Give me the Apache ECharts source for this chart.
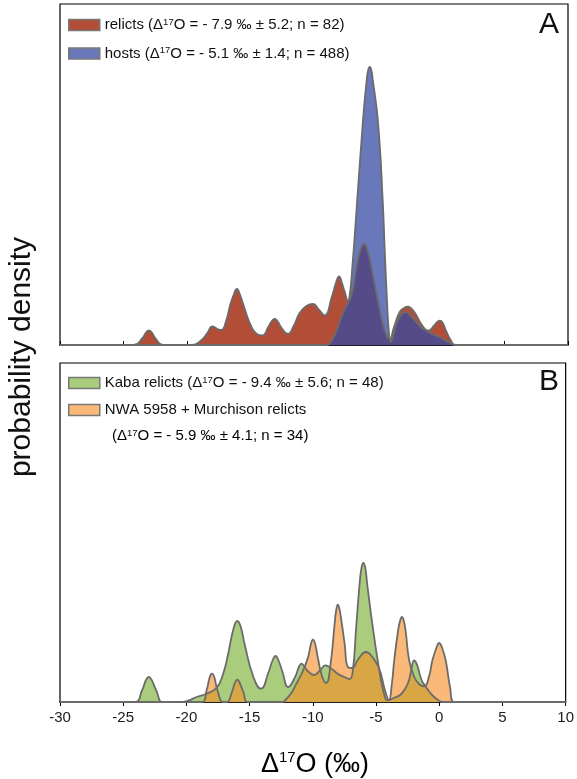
<!DOCTYPE html>
<html><head><meta charset="utf-8">
<script src="https://cdn.jsdelivr.net/npm/echarts@6/dist/echarts.min.js"></script>
<style>html,body{margin:0;padding:0;background:#fff}#c{width:577px;height:779px}</style>
</head><body><div id="c"></div>
<script>
// tick labels of the shared x axis
const xTicks = [-30, -25, -20, -15, -10, -5, 0, 5, 10];

// Panel A: relicts density (x = Δ17O, y = relative density)
const relicts = [[-30,0],[-24.2,0],[-23.5,7],[-23.2,13],[-23.0,14.5],[-22.8,13],[-22.5,7],[-21.9,0],[-19.6,0],[-18.9,4.5],[-18.4,12],[-18.0,18.5],[-17.6,16],[-17.3,15],[-16.9,25],[-16.6,40],[-16.3,51],[-16.07,56],[-15.85,51],[-15.5,38],[-15.0,20],[-14.5,11],[-14.07,9.5],[-13.6,18],[-13.35,23.5],[-13.1,26],[-12.85,23.5],[-12.6,18],[-12.05,11],[-11.6,19],[-11.13,32],[-10.6,39],[-10.08,41],[-9.6,35],[-9.16,29.5],[-8.6,48],[-8.25,63],[-8.03,68.5],[-7.8,62],[-7.6,54],[-7.3,44],[-6.95,55],[-6.66,77.6],[-6.3,97],[-6.06,101],[-5.8,95],[-5.48,77.6],[-4.96,44],[-4.43,14.3],[-4.05,6],[-3.7,18],[-3.25,33],[-2.9,37],[-2.59,38.3],[-2.3,36],[-2.0,31],[-1.5,20],[-1.02,14.3],[-0.5,20],[-0.3,23],[-0.09,24.3],[0.12,22.5],[0.4,14],[0.8,4],[1.1,0],[10,0]];
// Panel A: hosts density
const hosts = [[-30,0],[-9.0,0],[-8.6,5],[-8.2,15],[-7.85,27.7],[-7.5,38],[-7.24,45],[-6.97,80],[-6.65,135],[-6.14,225],[-5.85,265],[-5.73,275],[-5.61,278],[-5.49,275],[-5.38,266],[-4.96,223],[-4.58,142],[-4.43,94],[-4.25,44],[-4.1,12],[-3.95,3],[-3.75,10],[-3.5,22],[-3.1,31],[-2.77,33],[-2.3,28],[-1.93,22.7],[-1.5,17],[-1.14,14.3],[-0.5,10],[-0.09,7.7],[0.5,3.5],[1.2,0],[10,0]];
// Panel B: Kaba relicts density
const kaba = [[-30,0],[-24.1,0],[-23.5,12],[-23.2,22],[-22.98,25],[-22.75,22],[-22.4,12],[-21.85,0],[-20.5,0],[-19.8,1.7],[-19.2,5],[-18.4,8.3],[-17.6,14.3],[-17.1,28],[-16.7,48],[-16.3,72],[-15.97,81],[-15.7,75],[-15.4,58],[-14.7,25],[-14.1,13.3],[-13.5,30],[-13.2,41],[-12.95,46],[-12.7,41],[-12.4,30],[-11.95,15],[-11.4,25],[-11.1,35],[-10.9,38.3],[-10.7,36],[-10.4,31],[-9.9,27],[-9.4,32],[-9.0,36.7],[-8.5,33],[-8.0,28],[-7.5,25],[-7.1,23],[-6.85,30],[-6.57,75],[-6.3,118],[-6.15,134],[-6.0,139],[-5.85,134],[-5.7,118],[-5.26,75],[-4.74,31.7],[-4.4,10],[-4.08,1.7],[-3.6,4],[-3.0,8],[-2.5,18],[-2.2,33],[-2.08,40],[-1.98,41.7],[-1.86,40],[-1.7,35],[-1.4,22],[-1.1,16],[-0.7,9],[-0.2,3],[0.3,0],[10,0]];
// Panel B: NWA 5958 + Murchison relicts density
const nwa = [[-30,0],[-18.8,0],[-18.4,12],[-18.15,25],[-17.99,28.3],[-17.8,25],[-17.55,12],[-17.1,0],[-16.8,0],[-16.4,10],[-16.15,19.5],[-15.97,22.3],[-15.8,19.5],[-15.5,10],[-15.1,0],[-12.4,0],[-12.1,3],[-11.7,9],[-11.3,18.3],[-10.77,31.7],[-10.37,45],[-10.15,58],[-9.98,62.3],[-9.8,57],[-9.6,44],[-9.25,25],[-8.94,19],[-8.6,38],[-8.3,75],[-8.16,91],[-8.02,97.3],[-7.88,92],[-7.75,82],[-7.48,58],[-7.23,35],[-6.9,34],[-6.4,43],[-5.79,50],[-5.3,45],[-4.74,33],[-4.3,12],[-3.98,2],[-3.75,18],[-3.56,41.7],[-3.25,72],[-3.1,81],[-2.95,85],[-2.8,81],[-2.65,70],[-2.38,41.7],[-1.98,25],[-1.6,18],[-1.2,15.7],[-0.8,26],[-0.54,41.7],[-0.2,55],[-0.01,59],[0.2,55],[0.51,41.7],[0.85,15],[1.17,0],[10,0]];

const seriesNames = ['relicts', 'hosts', 'Kaba relicts', 'NWA 5958 + Murchison relicts'];
const legendTexts = {
  'relicts': '{n|relicts (Δ}{s|17}{n|O = - 7.9 ‰ ± 5.2; n = 82)}',
  'hosts': '{n|hosts (Δ}{s|17}{n|O = - 5.1 ‰ ± 1.4; n = 488)}',
  'Kaba relicts': '{n|Kaba relicts (Δ}{s|17}{n|O = - 9.4 ‰ ± 5.6; n = 48)}',
  'NWA 5958 + Murchison relicts': '{n|NWA 5958 + Murchison relicts}'
};

const FONT = 'Liberation Sans';
const rich = {
  n: {fontFamily: FONT, fontSize: 15, lineHeight: 16, color: '#111'},
  s: {fontFamily: FONT, fontSize: 9.5, lineHeight: 8, verticalAlign: 'top', color: '#111'}
};
const LINE = '#6b6b6b';

const chart = echarts.init(document.getElementById('c'));

function mkSeries(name, data, idx, swatch, fill) {
  return {
    name, type: 'line', data, xAxisIndex: idx, yAxisIndex: idx,
    smooth: 0.5, showSymbol: false, symbol: 'none', silent: true,
    itemStyle: {color: swatch},
    lineStyle: {color: LINE, width: 1.8},
    areaStyle: {color: fill, opacity: 1}
  };
}

function xAxisDef(idx, labels) {
  return {
    type: 'value', gridIndex: idx, min: xTicks[0], max: xTicks[xTicks.length - 1], interval: 5,
    axisLine: {show: true, onZero: false, lineStyle: {color: '#000', width: 1.5}},
    axisTick: {show: true, inside: !labels, length: 4, lineStyle: {color: '#000'}},
    axisLabel: {show: labels, margin: 8, fontFamily: FONT, fontSize: 15, color: '#1a1a1a',
      formatter: v => String(v)},
    splitLine: {show: false}
  };
}

const legendCommon = {
  orient: 'vertical', icon: 'rect', itemWidth: 31, itemHeight: 11, padding: 0,
  itemStyle: {borderColor: '#777', borderWidth: 1.5},
  textStyle: {rich},
  formatter: name => legendTexts[name],
  selectedMode: false
};

chart.setOption({
  animation: false,
  backgroundColor: '#fff',
  grid: [
    {left: 60, right: 9, top: 4, height: 341, show: true, borderColor: '#000', borderWidth: 1.2},
    {left: 60, right: 9, top: 363, height: 339, show: true, borderColor: '#000', borderWidth: 1.2}
  ],
  xAxis: [xAxisDef(0, false), xAxisDef(1, true)],
  yAxis: [
    {type: 'value', gridIndex: 0, min: 0, max: 341, show: false},
    {type: 'value', gridIndex: 1, min: 0, max: 339, show: false}
  ],
  legend: [
    Object.assign({data: ['relicts', 'hosts'], left: 68, top: 17, itemGap: 13}, legendCommon),
    Object.assign({data: ['Kaba relicts', 'NWA 5958 + Murchison relicts'], left: 68, top: 375, itemGap: 12}, legendCommon)
  ],
  series: [
    mkSeries(seriesNames[0], relicts, 0, '#B24E38', '#B24E38'),
    mkSeries(seriesNames[1], hosts, 0, '#6878BA', 'rgba(54,75,163,0.75)'),
    mkSeries(seriesNames[2], kaba, 1, '#AACD7D', '#AACD7D'),
    mkSeries(seriesNames[3], nwa, 1, '#FAB978', 'rgba(247,140,34,0.61)')
  ],
  graphic: [
    {type: 'text', left: 539, top: 10, style: {text: 'A', fontFamily: FONT, fontSize: 30, fill: '#111'}},
    {type: 'text', left: 539, top: 367, style: {text: 'B', fontFamily: FONT, fontSize: 30, fill: '#111'}},
    {type: 'text', left: 112, top: 428, style: {text: '{n|(Δ}{s|17}{n|O = - 5.9 ‰ ± 4.1; n = 34)}', rich}},
    {type: 'text', x: 22, y: 357, rotation: Math.PI / 2,
      style: {text: 'probability density', fontFamily: FONT, fontSize: 30, fill: '#111', align: 'center', verticalAlign: 'middle'}},
    {type: 'text', x: 315, y: 765,
      style: {text: '{b|Δ}{bs|17}{b|O (‰)}', align: 'center', verticalAlign: 'middle',
        rich: {
          b: {fontFamily: FONT, fontSize: 27, lineHeight: 30, color: '#111'},
          bs: {fontFamily: FONT, fontSize: 15, lineHeight: 17, verticalAlign: 'top', color: '#111'}
        }}}
  ]
});
</script></body></html>
